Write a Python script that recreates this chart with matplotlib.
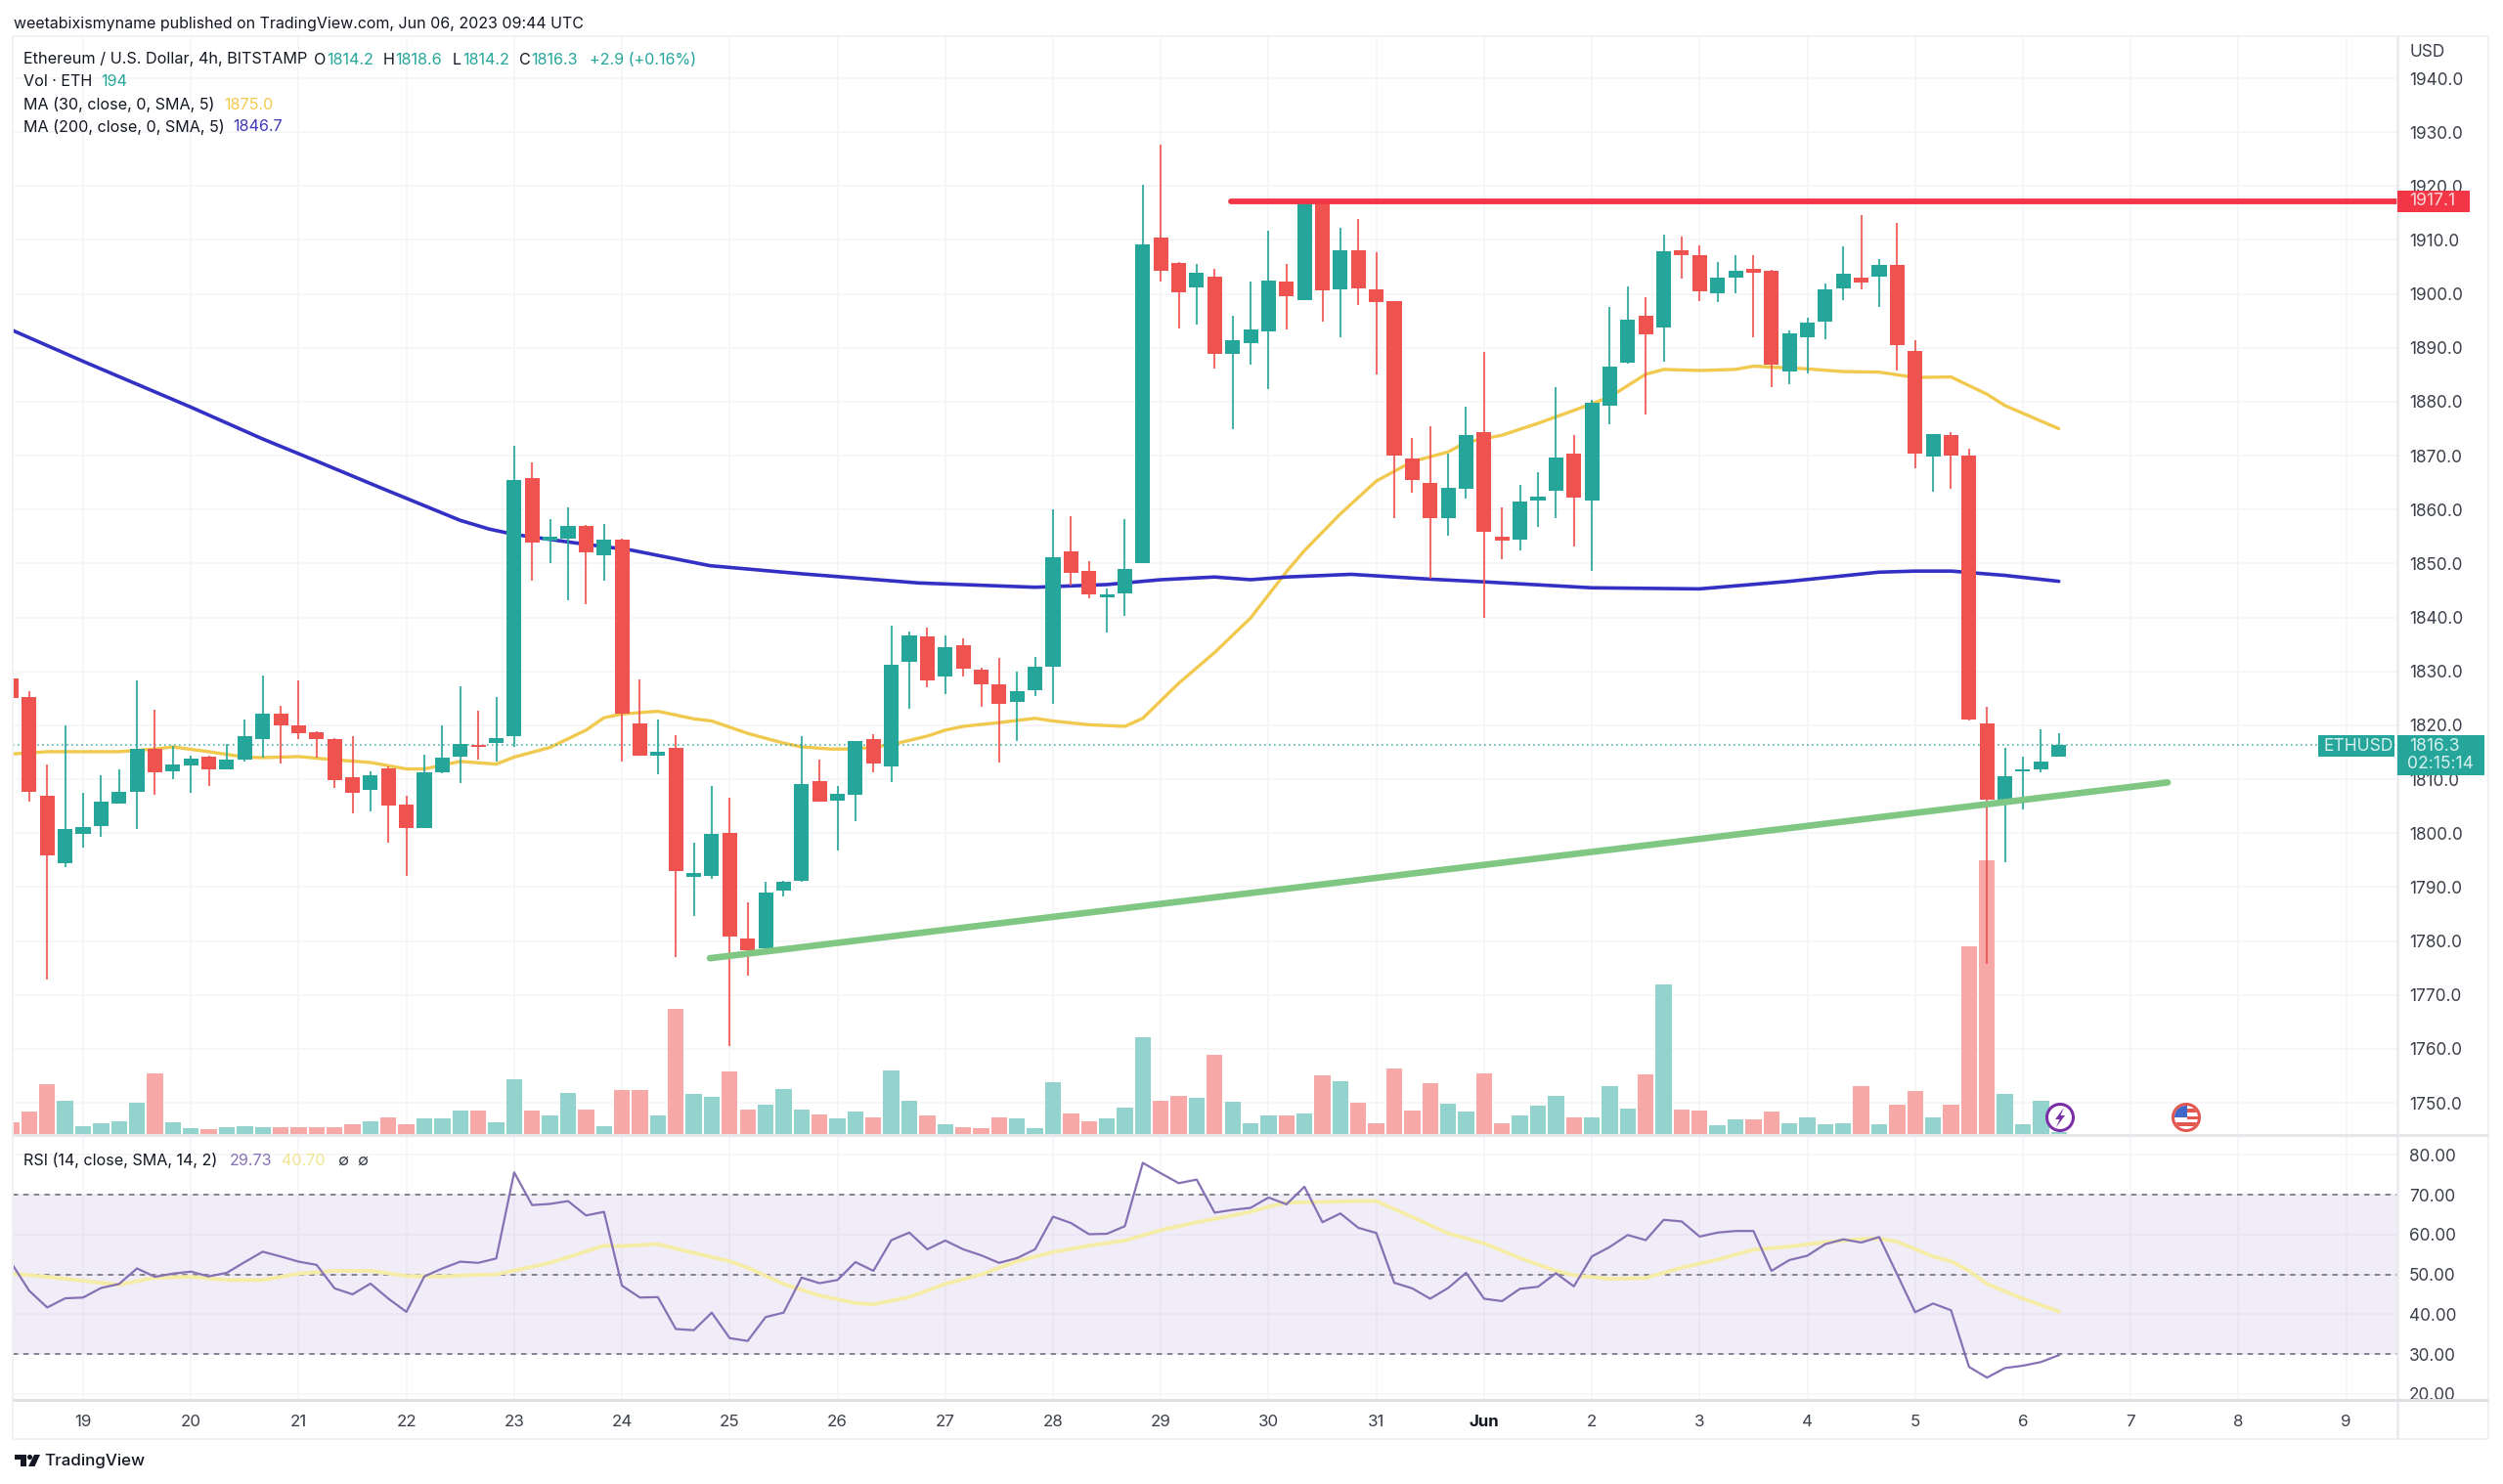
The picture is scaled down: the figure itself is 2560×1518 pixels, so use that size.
import matplotlib
matplotlib.use("Agg")
import matplotlib.pyplot as plt
import numpy as np
from matplotlib.patches import Circle, Polygon, Rectangle

plt.rcParams['font.family'] = ['Inter', 'DejaVu Sans']

# 4h candles, index 0 is the first candle of May 19
candle_x = list(range(-4, 111))
opens = [1828.6, 1825.3, 1807.0, 1794.4, 1799.8, 1801.4, 1805.4, 1807.7, 1815.6, 1811.4, 1812.6, 1814.2, 1811.9, 1813.7, 1817.5, 1822.1, 1819.9, 1818.8, 1817.5, 1810.3, 1808.0, 1812.0, 1805.3, 1801.0, 1811.2, 1814.2, 1816.2, 1816.7, 1818.0,
         1865.8, 1854.3, 1854.7, 1857.0, 1851.6, 1854.5, 1820.4, 1814.3, 1815.9, 1791.8, 1792.0, 1800.0, 1780.5, 1778.7, 1789.4, 1791.1, 1809.7, 1806.0, 1807.2, 1817.4, 1812.3, 1831.7, 1836.4, 1829.0, 1834.9, 1830.3, 1827.6, 1824.3, 1826.5,
         1830.9, 1852.2, 1848.7, 1843.8, 1844.4, 1850.1, 1910.4, 1905.8, 1901.2, 1903.2, 1888.9, 1890.9, 1893.0, 1902.3, 1898.9, 1916.8, 1900.8, 1908.1, 1900.9, 1898.6, 1869.5, 1865.0, 1858.4, 1863.9, 1874.4, 1855.0, 1854.5, 1861.6, 1863.5,
         1870.3, 1861.6, 1879.3, 1887.2, 1896.0, 1893.8, 1908.1, 1907.1, 1900.2, 1903.0, 1904.6, 1904.3, 1885.7, 1892.0, 1894.9, 1901.0, 1903.0, 1903.2, 1905.4, 1889.4, 1869.8, 1873.9, 1870.0, 1820.3, 1805.9, 1811.4, 1811.8, 1814.2]
highs = [1828.9, 1826.4, 1812.8, 1820.0, 1807.5, 1810.7, 1811.9, 1828.3, 1822.9, 1816.2, 1814.3, 1814.3, 1816.6, 1821.1, 1829.3, 1823.6, 1828.3, 1818.9, 1817.6, 1818.0, 1811.4, 1812.3, 1807.0, 1814.6, 1820.0, 1827.3, 1822.7, 1825.2, 1871.9,
         1868.7, 1858.3, 1860.5, 1857.2, 1857.3, 1854.6, 1828.5, 1821.1, 1818.2, 1798.3, 1808.8, 1806.5, 1787.1, 1791.0, 1791.1, 1818.0, 1813.6, 1808.7, 1817.1, 1818.3, 1838.4, 1837.4, 1838.1, 1836.6, 1836.1, 1830.7, 1832.5, 1830.0, 1832.7,
         1860.0, 1858.7, 1850.4, 1845.4, 1858.3, 1920.3, 1927.6, 1905.9, 1905.5, 1904.7, 1895.9, 1902.3, 1911.8, 1905.5, 1916.9, 1916.9, 1912.3, 1913.9, 1907.8, 1898.7, 1873.2, 1875.4, 1870.4, 1879.1, 1889.2, 1860.5, 1864.6, 1866.9, 1882.7,
         1873.9, 1880.4, 1897.5, 1901.3, 1899.4, 1911.0, 1910.7, 1909.0, 1906.0, 1907.1, 1907.1, 1904.4, 1893.2, 1895.5, 1901.9, 1908.9, 1914.6, 1906.4, 1913.1, 1891.5, 1874.1, 1874.4, 1871.3, 1823.4, 1815.8, 1814.1, 1819.2, 1818.6]
lows = [1824.9, 1805.9, 1772.8, 1793.7, 1797.3, 1799.3, 1805.4, 1800.7, 1807.2, 1810.1, 1807.4, 1808.8, 1811.8, 1813.2, 1814.0, 1813.0, 1817.4, 1814.0, 1808.3, 1803.7, 1804.1, 1798.3, 1792.1, 1801.0, 1811.1, 1809.2, 1813.6, 1813.3, 1816.0,
        1846.8, 1850.1, 1843.2, 1842.5, 1846.8, 1813.3, 1814.3, 1810.9, 1777.0, 1784.7, 1791.6, 1760.5, 1773.5, 1778.6, 1788.3, 1791.0, 1805.8, 1796.8, 1802.2, 1811.3, 1809.5, 1823.0, 1827.0, 1825.8, 1829.0, 1823.5, 1813.1, 1817.1, 1825.4,
        1824.0, 1845.9, 1843.6, 1837.2, 1840.2, 1850.0, 1902.3, 1893.6, 1894.4, 1886.2, 1874.9, 1886.8, 1882.3, 1893.5, 1898.8, 1894.8, 1892.0, 1898.0, 1885.1, 1858.5, 1863.2, 1847.2, 1855.1, 1862.1, 1839.9, 1850.8, 1852.4, 1856.8, 1858.5,
        1853.2, 1848.6, 1875.8, 1887.1, 1877.6, 1887.5, 1902.8, 1898.6, 1898.4, 1900.1, 1892.0, 1882.8, 1883.3, 1885.2, 1891.6, 1898.8, 1900.9, 1897.6, 1885.8, 1867.7, 1863.4, 1863.9, 1820.9, 1775.7, 1794.6, 1804.4, 1811.2, 1814.2]
closes = [1825.1, 1807.6, 1795.8, 1800.7, 1801.1, 1805.9, 1807.7, 1815.6, 1811.2, 1812.8, 1813.8, 1811.8, 1813.6, 1818.0, 1822.1, 1820.0, 1818.5, 1817.5, 1809.8, 1807.5, 1810.8, 1805.2, 1801.0, 1811.3, 1814.0, 1816.5, 1816.0, 1817.6, 1865.5,
          1853.9, 1854.9, 1857.0, 1852.0, 1854.4, 1822.1, 1814.4, 1815.0, 1793.0, 1792.6, 1799.8, 1780.8, 1778.2, 1788.9, 1791.0, 1809.1, 1805.9, 1807.3, 1817.0, 1812.9, 1831.3, 1836.6, 1828.3, 1834.5, 1830.5, 1827.6, 1824.0, 1826.3, 1830.9,
          1851.2, 1848.2, 1844.2, 1844.3, 1849.0, 1909.2, 1904.3, 1900.3, 1903.9, 1888.9, 1891.4, 1893.5, 1902.5, 1899.5, 1916.8, 1900.6, 1908.1, 1901.1, 1898.5, 1870.0, 1865.5, 1858.5, 1864.0, 1873.8, 1855.8, 1854.3, 1861.5, 1862.4, 1869.7,
          1862.2, 1879.8, 1886.5, 1895.3, 1892.5, 1907.9, 1907.1, 1900.5, 1903.0, 1904.2, 1904.0, 1886.9, 1892.6, 1894.7, 1900.8, 1903.7, 1902.2, 1905.3, 1890.5, 1870.3, 1874.0, 1870.1, 1821.1, 1806.2, 1810.6, 1811.8, 1813.3, 1816.3]
volumes = [1200, 2300, 5100, 3400, 800, 1100, 1300, 3200, 6250, 1200, 600, 500, 700, 800, 700, 700, 750, 700, 750, 1000, 1350, 1700, 1000, 1600, 1600, 2400, 2400, 1250, 5600,
           2400, 1900, 4200, 2500, 800, 4500, 4500, 1900, 12850, 4100, 3800, 6400, 2500, 3000, 4600, 2500, 2000, 1600, 2300, 1700, 6500, 3400, 1900, 1000, 700, 600, 1700, 1600, 600,
           5300, 2100, 1300, 1600, 2700, 9900, 3400, 3900, 3700, 8100, 3300, 1150, 1900, 1900, 2100, 6000, 5400, 3200, 1150, 6700, 2400, 5200, 3100, 2300, 6200, 1150, 1900, 2900, 3900,
           1700, 1700, 4900, 2600, 6100, 15300, 2500, 2400, 900, 1500, 1500, 2300, 1100, 1700, 1000, 1100, 4900, 1000, 3000, 4400, 1700, 3000, 19200, 28000, 4100, 1000, 3400, 194]

ma30_x = [-3.9, -2, 0, 2, 4, 5, 7, 9, 10, 12, 14, 16, 18, 19, 21, 23, 24, 26, 28, 29, 30, 32, 34, 35, 37, 39, 40, 41.6, 43, 45, 47, 48, 49, 51, 53, 54, 56, 58, 59, 61, 63, 65, 67, 68, 70, 72, 74, 76, 77, 79, 81, 83, 85, 87, 88, 90, 92, 93, 96, 98, 100, 102, 104, 106, 107, 110]
ma30 = [1814.7, 1815.1, 1815.1, 1815.1, 1815.6, 1816.0, 1815.1, 1814.1, 1814.0, 1814.2, 1813.6, 1813.1, 1811.9, 1811.9, 1813.3, 1812.8, 1814.1, 1815.9, 1819.1, 1821.4, 1822.1, 1822.6, 1821.2, 1820.8, 1818.5, 1816.7, 1816.0, 1815.6, 1815.6, 1816.4, 1818.0, 1819.1, 1819.8, 1820.5, 1821.3, 1820.8, 1820.1, 1819.8, 1821.3, 1827.8, 1833.5, 1839.9, 1848.5, 1852.4, 1859.2, 1865.3, 1868.9, 1870.7, 1872.5, 1873.8, 1876.0, 1878.4, 1880.9, 1885.1, 1886.0, 1885.8, 1886.0, 1886.6, 1886.1, 1885.6, 1885.5, 1884.5, 1884.6, 1881.4, 1879.3, 1875.0]

ma200_x = [-3.9, 0, 6, 10, 13, 16.6, 21, 22.6, 24, 27, 30.5, 34.9, 40, 46.5, 53, 57, 60, 63, 65, 67, 70.6, 75, 78, 84, 90, 95, 100, 102, 104, 107, 110]
ma200 = [1893.2, 1887.5, 1879.0, 1873.1, 1869.0, 1864.0, 1858.0, 1856.4, 1855.4, 1854.0, 1852.5, 1849.6, 1848.1, 1846.4, 1845.6, 1846.1, 1847.0, 1847.5, 1847.0, 1847.5, 1848.0, 1847.1, 1846.6, 1845.5, 1845.3, 1846.7, 1848.4, 1848.6, 1848.6, 1847.8, 1846.7]

rsi = [52.9, 45.9, 41.7, 44.0, 44.2, 46.6, 47.6, 51.5, 49.4, 50.2, 50.7, 49.5, 50.4, 53.1, 55.7, 54.5, 53.2, 52.4, 46.5, 45.0, 47.7, 43.9, 40.6, 49.5, 51.5, 53.2, 52.9, 54.0, 75.6,
       67.4, 67.7, 68.4, 64.8, 65.7, 47.2, 44.2, 44.3, 36.3, 36.0, 40.4, 34.0, 33.3, 39.3, 40.4, 49.2, 47.8, 48.6, 53.1, 50.9, 58.6, 60.5, 56.3, 58.5, 56.3, 54.8, 52.9, 54.1, 56.3,
       64.5, 62.9, 60.1, 60.2, 62.1, 78.0, 75.4, 72.9, 73.8, 65.5, 66.2, 66.7, 69.3, 67.6, 72.0, 63.1, 65.3, 61.7, 60.4, 47.9, 46.5, 43.9, 46.6, 50.4, 43.9, 43.3, 46.4, 46.9, 50.3,
       47.0, 54.5, 56.9, 59.9, 58.6, 63.7, 63.3, 59.5, 60.5, 60.9, 60.9, 50.9, 53.6, 54.7, 57.6, 58.8, 58.0, 59.4, 50.0, 40.5, 42.7, 41.0, 26.8, 24.1, 26.5, 27.1, 28.0, 29.73]
rsi_ma_x = [-4, -2, 0, 2, 4, 6, 8, 10, 12, 14, 16, 18, 20, 22, 23, 26, 29, 30, 32, 34, 36, 37, 39, 41, 43, 44, 46, 48, 50, 52, 54, 56, 58, 60, 62, 64, 65, 66, 67, 69, 71, 72, 74, 76, 78, 80, 82, 83, 85, 87, 89, 91, 93, 95, 97, 99, 100, 101, 103, 104, 105, 106, 108, 110]
rsi_ma = [50.2, 49.4, 48.4, 47.4, 49.2, 49.4, 48.6, 48.6, 50.2, 50.9, 50.9, 49.6, 49.5, 49.9, 50.0, 52.9, 57.2, 57.1, 57.6, 55.4, 53.3, 51.7, 47.6, 44.7, 42.8, 42.5, 44.3, 47.6, 50.0, 53.3, 55.6, 57.2, 58.5, 61.1, 63.1, 64.8, 65.7, 67.0, 68.0, 68.2, 68.4, 68.4, 64.4, 60.3, 57.8, 54.1, 50.9, 49.8, 48.9, 49.1, 51.7, 53.7, 56.2, 57.0, 58.1, 58.9, 59.0, 58.2, 54.5, 53.3, 50.9, 47.6, 43.9, 40.7]

# drawn trend lines: (candle index, price) at both ends
support_x = [34.9, 116.06]
support_y = [1776.8, 1809.4]
resistance_start = 63.9
resistance_level = 1917.1
last_close = closes[-1]

day_ticks = list(range(0, 132, 6))
day_labels = ['19', '20', '21', '22', '23', '24', '25', '26', '27', '28', '29', '30', '31', 'Jun', '2', '3', '4', '5', '6', '7', '8', '9']
price_ticks = list(range(1750, 1950, 10))
rsi_ticks = [20, 30, 40, 50, 60, 70, 80]

UP = '#26a69a'
DOWN = '#ef5350'
UP_VOL = '#92d3cd'
DOWN_VOL = '#f7a9a7'
GRID = '#f6f6f8'
TEXT = '#131722'
AXIS_TEXT = '#3b3f4a'
W, H = 2560, 1518


def pane(left, top, right, bottom):
    return fig.add_axes([left / W, 1 - bottom / H, (right - left) / W, (bottom - top) / H])


def day_x(px):
    return (px - 85) / 18.37


fig = plt.figure(figsize=(25.6, 15.18), dpi=100, facecolor='white')

ax_vol = pane(13, 37, 2452, 1160)
ax = pane(13, 37, 2452, 1160)
ax_rsi = pane(13, 1163, 2452, 1432)
overlay = fig.add_axes([0, 0, 1, 1], zorder=10)
overlay.set_xlim(0, W)
overlay.set_ylim(H, 0)
overlay.axis('off')
overlay.patch.set_alpha(0)

xlim = (day_x(13), day_x(2452))

# volume sits behind the candles
ax_vol.set_xlim(*xlim)
ax_vol.set_ylim(0, 112300)
ax_vol.set_zorder(1)
vol_colors = [UP_VOL if c >= o else DOWN_VOL for o, c in zip(opens, closes)]
for tick in day_ticks:
    ax_vol.axvline(tick, color=GRID, lw=1.4, zorder=0)
for p in price_ticks:
    ax_vol.axhline((p - 1744.2) / (1947.8 - 1744.2) * 112300, color=GRID, lw=1.4, zorder=0)
ax_vol.bar(candle_x, volumes, width=0.89, color=vol_colors, zorder=2)
ax_vol.set_xticks([])
ax_vol.set_yticks([])
for s in ax_vol.spines.values():
    s.set_visible(False)

ax.set_zorder(2)
ax.patch.set_alpha(0)
ax.set_xlim(*xlim)
ax.set_ylim(1744.2, 1947.8)
ax.plot(ma30_x, ma30, color='#f0c94e', lw=2.4, zorder=2, solid_capstyle='round')
ax.plot(ma200_x, ma200, color='#3430c4', lw=2.6, zorder=2, solid_capstyle='round')
ax.axhline(last_close, color=UP, lw=1.2, ls=(0, (1, 2)), alpha=0.8, zorder=2)

colors = [UP if c >= o else DOWN for o, c in zip(opens, closes)]
ax.vlines(candle_x, lows, highs, colors=colors, lw=1.5, alpha=0.85, zorder=3)
bottoms = [min(o, c) for o, c in zip(opens, closes)]
heights = [max(abs(c - o), 0.3) for o, c in zip(opens, closes)]
ax.bar(candle_x, heights, bottom=bottoms, width=0.82, color=colors, zorder=4)

ax.plot(support_x, support_y, color='#81c784', lw=4.8, zorder=5, solid_capstyle='round')
ax.plot([resistance_start, xlim[1]], [resistance_level, resistance_level], color='#f23645', lw=4.2, zorder=5, solid_capstyle='round')

ax.yaxis.tick_right()
ax.set_yticks(price_ticks)
ax.set_yticklabels([f'{p:.1f}' for p in price_ticks], fontsize=12.4, color=AXIS_TEXT)
ax.tick_params(axis='y', length=0, pad=8.5)
ax.set_xticks([])
for s in ax.spines.values():
    s.set_visible(False)

# RSI pane
ax_rsi.set_xlim(*xlim)
ax_rsi.set_ylim(18.5, 84.5)
for tick in day_ticks:
    ax_rsi.axvline(tick, color=GRID, lw=1.4, zorder=0)
for r in rsi_ticks:
    ax_rsi.axhline(r, color=GRID, lw=1.4, zorder=0)
ax_rsi.axhspan(30, 70, color='#7e57c2', alpha=0.1, lw=0, zorder=1)
for level in (30, 50, 70):
    ax_rsi.axhline(level, color='#787b86', lw=1.3, ls=(0, (3, 3)), zorder=2)
ax_rsi.plot(rsi_ma_x, rsi_ma, color='#f5eca8', lw=2.8, zorder=3)
ax_rsi.plot(candle_x, rsi, color='#8671b4', lw=1.6, zorder=4)
ax_rsi.yaxis.tick_right()
ax_rsi.set_yticks(rsi_ticks)
ax_rsi.set_yticklabels([f'{r:.2f}' for r in rsi_ticks], fontsize=12.4, color=AXIS_TEXT)
ax_rsi.set_xticks(day_ticks)
ax_rsi.set_xticklabels(day_labels, fontsize=12.2, color=AXIS_TEXT)
ax_rsi.tick_params(axis='y', length=0, pad=8.5)
ax_rsi.tick_params(axis='x', length=0, pad=11)
for s in ax_rsi.spines.values():
    s.set_visible(False)
for lab in ax_rsi.get_xticklabels():
    if lab.get_text() == 'Jun':
        lab.set_fontweight('bold')
        lab.set_color(TEXT)

# pane frame and separators
for x0, y0, x1, y1, col, lw in [(13, 37, 2545, 37, '#f0f1f3', 1.4), (13, 37, 13, 1472, '#f0f1f3', 1.4),
                                (13, 1472, 2545, 1472, '#f0f1f3', 1.4), (2545, 37, 2545, 1472, '#f0f1f3', 1.4),
                                (2452, 37, 2452, 1472, '#e9eaed', 1.8), (13, 1161, 2545, 1161, '#e6e7ea', 2.2),
                                (13, 1432, 2545, 1432, '#e0e1e5', 2.2)]:
    overlay.plot([x0, x1], [y0, y1], color=col, lw=lw, solid_capstyle='butt', zorder=1)


def label(x, y, s, color=TEXT, size=11.6, **kw):
    overlay.text(x, y, s, color=color, fontsize=size, va='center', ha=kw.pop('ha', 'left'), **kw)


# price tags on the scale
overlay.add_patch(Rectangle((2452, 195), 74, 22, color='#f23645', lw=0, zorder=3))
label(2464, 206, f'{resistance_level:.1f}', color='#fbd5d8', size=12.6, zorder=4)
overlay.add_patch(Rectangle((2371, 752), 78, 22, color=UP, lw=0, zorder=3))
overlay.add_patch(Rectangle((2452, 752), 89, 41, color=UP, lw=0, zorder=3))
label(2377, 763, 'ETHUSD', color='#d8f0ee', size=12.6, zorder=4)
label(2464, 763, f'{last_close:.1f}', color='#d8f0ee', size=12.6, zorder=4)
label(2462, 782, '02:15:14', color='#d8f0ee', size=12.6, zorder=4)
label(2464, 54, 'USD', color=AXIS_TEXT, size=12.4)

# header and indicator legends
label(13.5, 24, 'weetabixismyname published on TradingView.com, Jun 06, 2023 09:44 UTC', size=11.5)
label(24.5, 61, 'Ethereum / U.S. Dollar, 4h, BITSTAMP', size=11.7)
for x, s in [(321, 'O'), (392, 'H'), (463, 'L'), (531, 'C')]:
    label(x, 61, s)
for x, s in [(334, f'{opens[-1]:.1f}'), (404, f'{highs[-1]:.1f}'), (473, f'{lows[-1]:.1f}'), (543.5, f'{last_close:.1f}'), (603, '+2.9 (+0.16%)')]:
    label(x, 61, s, color=UP)
label(24.5, 84, 'Vol · ETH')
label(103, 84, f'{volumes[-1]}', color=UP)
label(24.5, 107, 'MA (30, close, 0, SMA, 5)')
label(229, 107, f'{ma30[-1]:.1f}', color='#f0c94e')
label(24.5, 130, 'MA (200, close, 0, SMA, 5)')
label(238.5, 130, f'{ma200[-1]:.1f}', color='#3f3bb8')
label(24.5, 1187, 'RSI (14, close, SMA, 14, 2)')
label(235, 1187, f'{rsi[-1]:.2f}', color='#8671b4')
label(288, 1187, f'{rsi_ma[-1]:.2f}', color='#f0e68c')
label(345, 1187, '∅', color=AXIS_TEXT)
label(365, 1187, '∅', color=AXIS_TEXT)

# event badges on the time scale
overlay.add_patch(Circle((2107, 1143), 13.5, fc='white', ec='#7b2fa6', lw=2.2, zorder=3))
overlay.add_patch(Polygon([(2111, 1133), (2102, 1145), (2106.5, 1145), (2103, 1153), (2112, 1141), (2107.5, 1141)], closed=True, color='#7b2fa6', lw=0, zorder=4))
badge = Circle((2236, 1143), 13.5, fc='white', ec='#e2574f', lw=2.2, zorder=3)
overlay.add_patch(badge)
canton = Rectangle((2224, 1131), 13, 12, color='#3f68c8', lw=0, zorder=4)
stripe_a = Rectangle((2237, 1134), 14, 4, color='#e2574f', lw=0, zorder=4)
stripe_b = Rectangle((2237, 1142), 14, 3, color='#e2574f', lw=0, zorder=4)
stripe_c = Rectangle((2224, 1148), 26, 4, color='#e2574f', lw=0, zorder=4)
for part in (canton, stripe_a, stripe_b, stripe_c):
    overlay.add_patch(part)
    part.set_clip_path(Circle((2236, 1143), 12, transform=overlay.transData))

# TradingView mark
overlay.add_patch(Polygon([(15, 1488), (27, 1488), (27, 1500), (21, 1500), (21, 1493), (15, 1493)], closed=True, color=TEXT, lw=0))
overlay.add_patch(Circle((30.5, 1490.5), 2.6, color=TEXT, lw=0))
overlay.add_patch(Polygon([(35, 1488), (41, 1488), (35.5, 1500), (29, 1500)], closed=True, color=TEXT, lw=0))
label(45, 1494, 'TradingView', size=12.2, fontweight='medium')

fig.savefig('out.png', dpi=100)
